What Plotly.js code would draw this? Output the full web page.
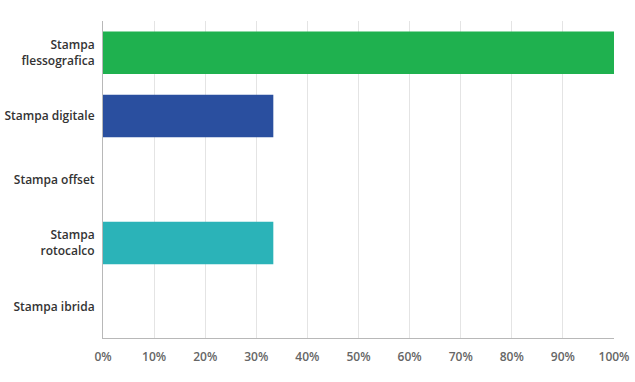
<!DOCTYPE html>
<html><head><meta charset="utf-8">
<script src="https://cdn.plot.ly/plotly-3.0.1.min.js"></script>
<style>html,body{margin:0;padding:0;background:#fff}#chart{width:635px;height:382px}</style>
</head><body><div id="chart"></div>
<script>
const categories = ["Stampa<br>flessografica", "Stampa digitale", "Stampa offset", "Stampa<br>rotocalco", "Stampa ibrida"];
const values = [100, 33.33, 0, 33.33, 0];
const colors = ["#1fb14f", "#2a4f9f", "#6a6a6a", "#2bb3b8", "#888888"];
const tickVals = [0,10,20,30,40,50,60,70,80,90,100];
const tickText = tickVals.map(v => v + "%");

Plotly.newPlot("chart", [{
  type: "bar", orientation: "h",
  x: values, y: categories,
  marker: {color: colors, line: {width: 0}},
  width: 0.67,
  hoverinfo: "none"
}], {
  width: 635, height: 382,
  margin: {l: 103, r: 21, t: 21, b: 44},
  paper_bgcolor: "#fff", plot_bgcolor: "#fff",
  showlegend: false,
  xaxis: {
    range: [0, 100], tickvals: tickVals, ticktext: tickText,
    showgrid: true, gridcolor: "#e4e4e4", gridwidth: 1,
    zeroline: false, showline: true, linecolor: "#b8b8b8", linewidth: 1,
    ticks: "", ticklen: 0, ticklabelstandoff: 8, fixedrange: true,
    tickfont: {family: "Open Sans", size: 12, color: "#666", weight: 600}
  },
  yaxis: {
    autorange: "reversed", showgrid: false, zeroline: false,
    showline: true, linecolor: "#b8b8b8", linewidth: 1,
    ticks: "", ticklen: 0, ticklabelstandoff: 5,
    tickfont: {family: "Open Sans", size: 12, color: "#333", weight: 600}
  }
}, {staticPlot: true});
</script></body></html>
